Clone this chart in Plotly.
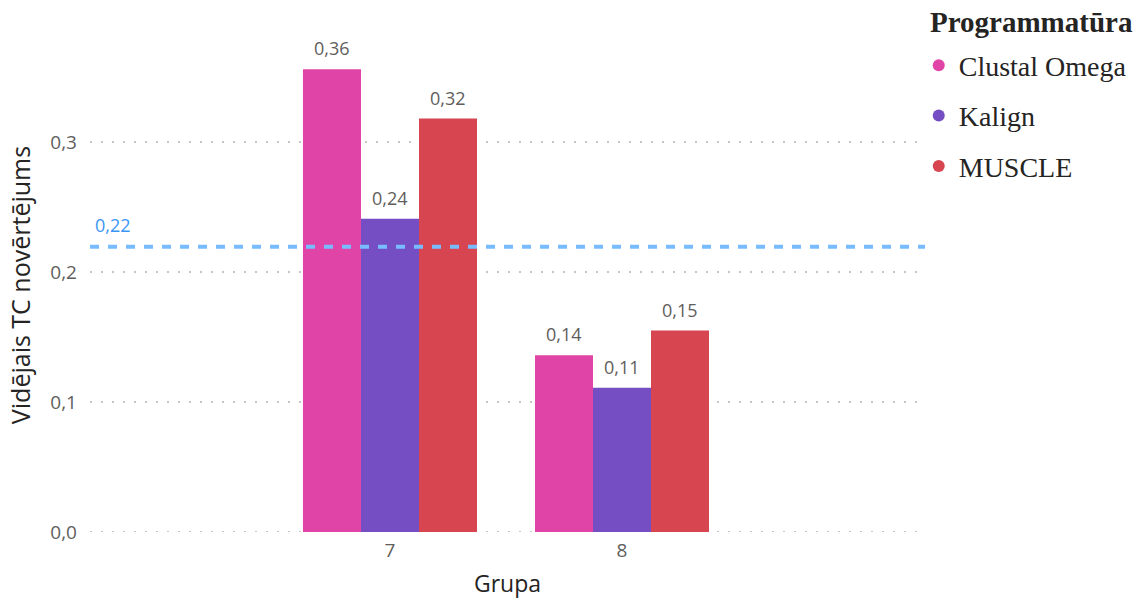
import plotly.graph_objects as go

groups = [7, 8]
series_names = ["Clustal Omega", "Kalign", "MUSCLE"]
clustal = [0.356, 0.136]
kalign = [0.241, 0.111]
muscle = [0.318, 0.155]
colors = ["#E044A7", "#744EC2", "#D64550"]

values = [clustal, kalign, muscle]
all_vals = [v for s in values for v in s]
avg = sum(all_vals) / len(all_vals)

bargap = 0.25
bar_w = (1 - bargap) / len(series_names)

fig = go.Figure()
for i, (name, vals, col) in enumerate(zip(series_names, values, colors)):
    fig.add_trace(go.Bar(
        x=groups, y=vals, name=name, marker=dict(color=col, line=dict(width=0)),
        showlegend=False,
    ))
    off = (i - (len(series_names) - 1) / 2) * bar_w
    for g, v in zip(groups, vals):
        fig.add_annotation(x=g + off, y=v, xref="x", yref="y",
                           text=f"{v:.2f}".replace(".", ","), showarrow=False,
                           yanchor="bottom", yshift=7,
                           font=dict(family="Open Sans", size=18, color="#605E5C"))
for i, (name, col) in enumerate(zip(series_names, colors)):
    fig.add_trace(go.Scatter(
        x=[None], y=[None], mode="markers", name=name,
        marker=dict(symbol="circle", size=17, color=col),
        legendgroup=f"g{i}", showlegend=True,
    ))

# dotted baseline at zero
fig.add_shape(type="line", xref="paper", x0=0, x1=1, yref="y", y0=0, y1=0,
              line=dict(color="#C8C6C4", width=2, dash="2px,9px"), layer="below")
fig.add_shape(type="line", xref="paper", x0=0, x1=1, yref="y", y0=avg, y1=avg,
              line=dict(color="#78BCFF", width=4, dash="9px,9px"), layer="above")
fig.add_annotation(xref="paper", x=0.0, y=avg, yref="y", text=f"{avg:.2f}".replace(".", ","),
                   showarrow=False, xanchor="left", yanchor="bottom", yshift=8, xshift=3,
                   font=dict(family="Open Sans", size=18, color="#3A96F5"))
fig.add_annotation(xref="paper", yref="paper", x=1.0, y=1.0, xshift=3, yshift=16,
                   text="<b>Programmatūra</b>", showarrow=False, xanchor="left", yanchor="middle",
                   font=dict(family="Liberation Serif", size=29, color="#252423"))

fig.update_layout(
    width=1135, height=599,
    margin=dict(l=90, r=210, t=38, b=67, autoexpand=False),
    plot_bgcolor="white", paper_bgcolor="white",
    separators=",.",
    barmode="group", bargap=bargap, bargroupgap=0,
    font=dict(family="Open Sans", color="#605E5C"),
    legend=dict(
        font=dict(family="Liberation Serif", size=28, color="#252423"),
        x=0.9925, xanchor="left", y=0.995, yanchor="top",
        tracegroupgap=11, itemsizing="constant", itemwidth=30,
    ),
    xaxis=dict(
        range=[5.707, 9.306], tickvals=groups, ticktext=[str(g) for g in groups],
        showgrid=False, zeroline=False, showline=False,
        tickfont=dict(size=19, color="#605E5C"), ticklabelstandoff=5,
        title=dict(text="Grupa", font=dict(size=23, color="#252423"), standoff=14),
    ),
    yaxis=dict(
        range=[0, 0.38], tickvals=[0.1, 0.2, 0.3, 0], tickformat=".1f",
        showgrid=True, gridcolor="#C8C6C4", griddash="2px,9px", gridwidth=2,
        zeroline=False, showline=False,
        tickfont=dict(size=19, color="#605E5C"), ticklabelstandoff=12,
        title=dict(text="Vidējais TC novērtējums", font=dict(size=25, color="#252423"), standoff=12),
    ),
)

fig.write_html("out.html")
